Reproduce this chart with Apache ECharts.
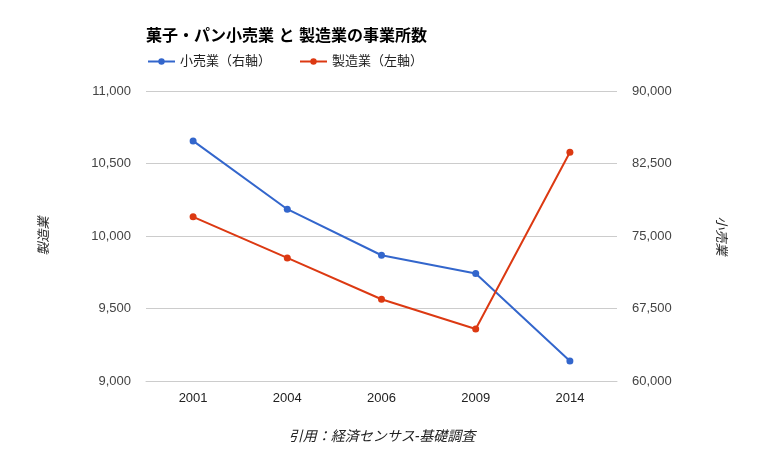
<!DOCTYPE html>
<html><head><meta charset="utf-8">
<script src="https://cdn.jsdelivr.net/npm/echarts@6/dist/echarts.min.js"></script>
<style>html,body{margin:0;padding:0;background:#fff}#c{width:764px;height:472px}</style>
</head><body><div id="c"></div>
<script>
const years = ['2001','2004','2006','2009','2014'];
const retail = [84840, 77770, 73010, 71120, 62080];      // 小売業（右軸）
const manufacturing = [10132, 9849, 9564, 9359, 10578];  // 製造業（左軸）
const leftTicks = [9000, 11000, 500];
const rightTicks = [60000, 90000, 7500];

const FONT = '"Liberation Sans", Arial, "Noto Sans CJK JP", sans-serif';
const chart = echarts.init(document.getElementById('c'), null, {renderer:'canvas'});
chart.setOption({
  animation:false,
  textStyle:{fontFamily:FONT},
  title:{text:'菓子・パン小売業 と 製造業の事業所数', left:146, top:29, padding:0,
    textStyle:{fontFamily:FONT, fontSize:16, fontWeight:'bold', color:'#000'}},
  legend:{left:147, top:55, padding:0, itemWidth:27, itemHeight:8, itemGap:28,
    textStyle:{fontFamily:FONT, fontSize:13, color:'#222'},
    data:['小売業（右軸）','製造業（左軸）']},
  grid:{left:146, right:147, top:91, bottom:91, containLabel:false},
  xAxis:{type:'category', data:years, boundaryGap:true,
    axisLine:{lineStyle:{color:'#ccc'}}, axisTick:{show:false},
    axisLabel:{color:'#222', fontSize:13, margin:11, fontFamily:FONT}},
  yAxis:[
    {type:'value', position:'left', min:leftTicks[0], max:leftTicks[1], interval:leftTicks[2],
      name:'製造業', nameLocation:'middle', nameGap:95, nameRotate:90,
      nameTextStyle:{fontStyle:'italic', fontSize:13, color:'#222', fontFamily:FONT},
      axisLine:{show:false}, axisTick:{show:false},
      axisLabel:{color:'#444', fontSize:13, margin:15, fontFamily:FONT,
        formatter:v=>v.toLocaleString('en-US')},
      splitLine:{lineStyle:{color:'#ccc'}}},
    {type:'value', position:'right', min:rightTicks[0], max:rightTicks[1], interval:rightTicks[2],
      name:'小売業', nameLocation:'middle', nameGap:97, nameRotate:-90,
      nameTextStyle:{fontStyle:'italic', fontSize:13, color:'#222', fontFamily:FONT},
      axisLine:{show:false}, axisTick:{show:false},
      axisLabel:{color:'#444', fontSize:13, margin:15, fontFamily:FONT,
        formatter:v=>v.toLocaleString('en-US')},
      splitLine:{show:false}}
  ],
  graphic:[{type:'text', left:'center', top:430,
    style:{text:'引用：経済センサス-基礎調査', font:'italic 14px '+FONT, fill:'#222'}}],
  series:[
    {name:'小売業（右軸）', type:'line', yAxisIndex:1, data:retail,
      symbol:'circle', symbolSize:7, lineStyle:{width:2, color:'#3366cc'},
      itemStyle:{color:'#3366cc'}},
    {name:'製造業（左軸）', type:'line', yAxisIndex:0, data:manufacturing,
      symbol:'circle', symbolSize:7, lineStyle:{width:2, color:'#dc3912'},
      itemStyle:{color:'#dc3912'}}
  ]
});
</script></body></html>
